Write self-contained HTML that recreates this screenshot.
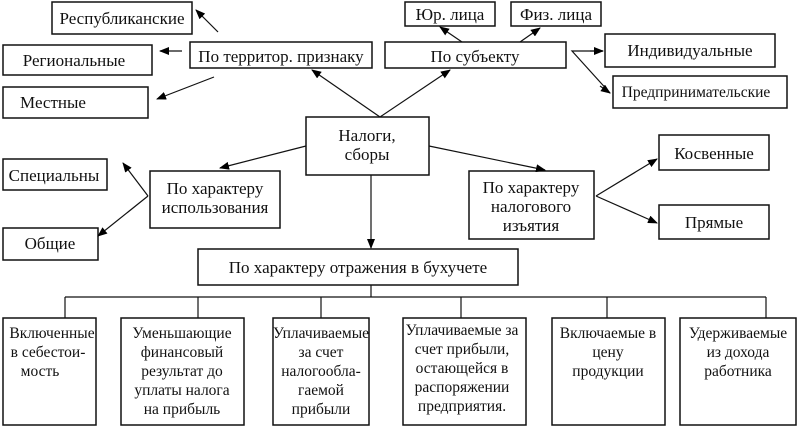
<!DOCTYPE html>
<html><head><meta charset="utf-8"><style>
body{margin:0;background:#fff;}
svg{display:block;}
text{font-family:"Liberation Serif",serif;font-size:17px;fill:#111;}
.b text{font-size:15.5px;}
</style></head><body>
<svg width="800" height="427" viewBox="0 0 800 427" xmlns="http://www.w3.org/2000/svg">
<defs><marker id="a" markerWidth="10" markerHeight="8" refX="9" refY="4" orient="auto" markerUnits="userSpaceOnUse"><path d="M0,0 L10,4 L0,8 z" fill="#000"/></marker></defs>
<g fill="none" stroke="#111" stroke-width="1.5">
<rect x="52" y="2" width="140" height="32"/>
<rect x="3" y="45" width="149" height="30"/>
<rect x="3" y="87" width="145" height="31"/>
<rect x="190" y="42" width="182" height="26"/>
<rect x="385" y="42" width="181" height="26"/>
<rect x="405" y="2" width="90" height="24"/>
<rect x="511" y="2" width="90" height="24"/>
<rect x="605" y="34" width="170" height="33"/>
<rect x="613" y="76" width="174" height="32"/>
<rect x="306" y="117" width="123" height="58"/>
<rect x="3" y="159" width="104" height="31"/>
<rect x="3" y="228" width="95" height="32"/>
<rect x="150" y="171" width="130" height="57"/>
<rect x="469" y="171" width="125" height="68"/>
<rect x="659" y="135" width="110" height="35"/>
<rect x="659" y="205" width="110" height="34"/>
<rect x="198" y="249" width="320" height="36"/>
<rect x="3" y="318" width="93" height="107"/>
<rect x="121" y="318" width="123" height="107"/>
<rect x="273" y="318" width="96" height="107"/>
<rect x="403" y="318" width="123" height="107"/>
<rect x="552" y="318" width="113" height="107"/>
<rect x="680" y="318" width="116" height="107"/>
</g>
<g stroke="#111" stroke-width="1.2" fill="none">
<line x1="380" y1="117" x2="312" y2="70" marker-end="url(#a)"/>
<line x1="380" y1="117" x2="450" y2="70" marker-end="url(#a)"/>
<line x1="218" y1="32" x2="196" y2="10" marker-end="url(#a)"/>
<line x1="182" y1="51" x2="160" y2="51" marker-end="url(#a)"/>
<line x1="214" y1="77" x2="157" y2="99" marker-end="url(#a)"/>
<line x1="462" y1="42" x2="440" y2="27" marker-end="url(#a)"/>
<line x1="520" y1="42" x2="540" y2="28" marker-end="url(#a)"/>
<polyline points="603,51 572,51 610,93" />
<line x1="590" y1="51" x2="603" y2="51" marker-end="url(#a)"/>
<line x1="600" y1="86" x2="610" y2="93" marker-end="url(#a)"/>
<line x1="306" y1="146" x2="220" y2="168" marker-end="url(#a)"/>
<line x1="429" y1="146" x2="545" y2="170" marker-end="url(#a)"/>
<line x1="148" y1="196" x2="123" y2="163" marker-end="url(#a)"/>
<line x1="148" y1="196" x2="98" y2="236" marker-end="url(#a)"/>
<line x1="596" y1="196" x2="657" y2="159" marker-end="url(#a)"/>
<line x1="596" y1="196" x2="657" y2="223" marker-end="url(#a)"/>
<line x1="371" y1="175" x2="371" y2="248" marker-end="url(#a)"/>
<line x1="371" y1="285" x2="371" y2="297"/>
<line x1="65" y1="297" x2="766" y2="297"/>
<line x1="65" y1="297" x2="65" y2="318"/>
<line x1="198" y1="297" x2="198" y2="318"/>
<line x1="321" y1="297" x2="321" y2="318"/>
<line x1="461" y1="297" x2="461" y2="318"/>
<line x1="607" y1="297" x2="607" y2="318"/>
<line x1="766" y1="297" x2="766" y2="318"/>
</g>
<g text-anchor="middle">
<text x="122" y="24">Республиканские</text>
<text x="74" y="66">Региональные</text>
<text x="53" y="108">Местные</text>
<text x="281" y="62">По территор. признаку</text>
<text x="475" y="62">По субъекту</text>
<text x="450" y="20">Юр. лица</text>
<text x="556" y="20">Физ. лица</text>
<text x="690" y="56">Индивидуальные</text>
<text x="696" y="97" style="font-size:15.5px">Предпринимательские</text>
<text x="367" y="141">Налоги,</text>
<text x="367" y="160">сборы</text>
<text x="54" y="181">Специальны</text>
<text x="50" y="249">Общие</text>
<text x="215" y="194">По характеру</text>
<text x="215" y="213">использования</text>
<text x="531" y="193">По характеру</text>
<text x="531" y="212">налогового</text>
<text x="531" y="231">изъятия</text>
<text x="714" y="159">Косвенные</text>
<text x="714" y="228">Прямые</text>
<text x="358" y="273">По характеру отражения в бухучете</text>
</g>
<g class="b" text-anchor="middle">
<text x="52" y="338">Включенные</text>
<text x="48" y="357">в  себестои-</text>
<text x="40" y="376">мость</text>
<text x="182" y="338">Уменьшающие</text>
<text x="182" y="357">финансовый</text>
<text x="182" y="376">результат до</text>
<text x="182" y="395">уплаты  налога</text>
<text x="182" y="414">на прибыль</text>
<text x="321" y="338">Уплачиваемые</text>
<text x="321" y="357">за счет</text>
<text x="321" y="376">налогообла-</text>
<text x="321" y="395">гаемой</text>
<text x="321" y="414">прибыли</text>
<text x="462" y="335">Уплачиваемые за</text>
<text x="462" y="354">счет прибыли,</text>
<text x="462" y="373">остающейся в</text>
<text x="462" y="392">распоряжении</text>
<text x="462" y="411">предприятия.</text>
<text x="608" y="338">Включаемые в</text>
<text x="608" y="357">цену</text>
<text x="608" y="376">продукции</text>
<text x="738" y="338">Удерживаемые</text>
<text x="738" y="357">из дохода</text>
<text x="738" y="376">работника</text>
</g>
</svg>
</body></html>
